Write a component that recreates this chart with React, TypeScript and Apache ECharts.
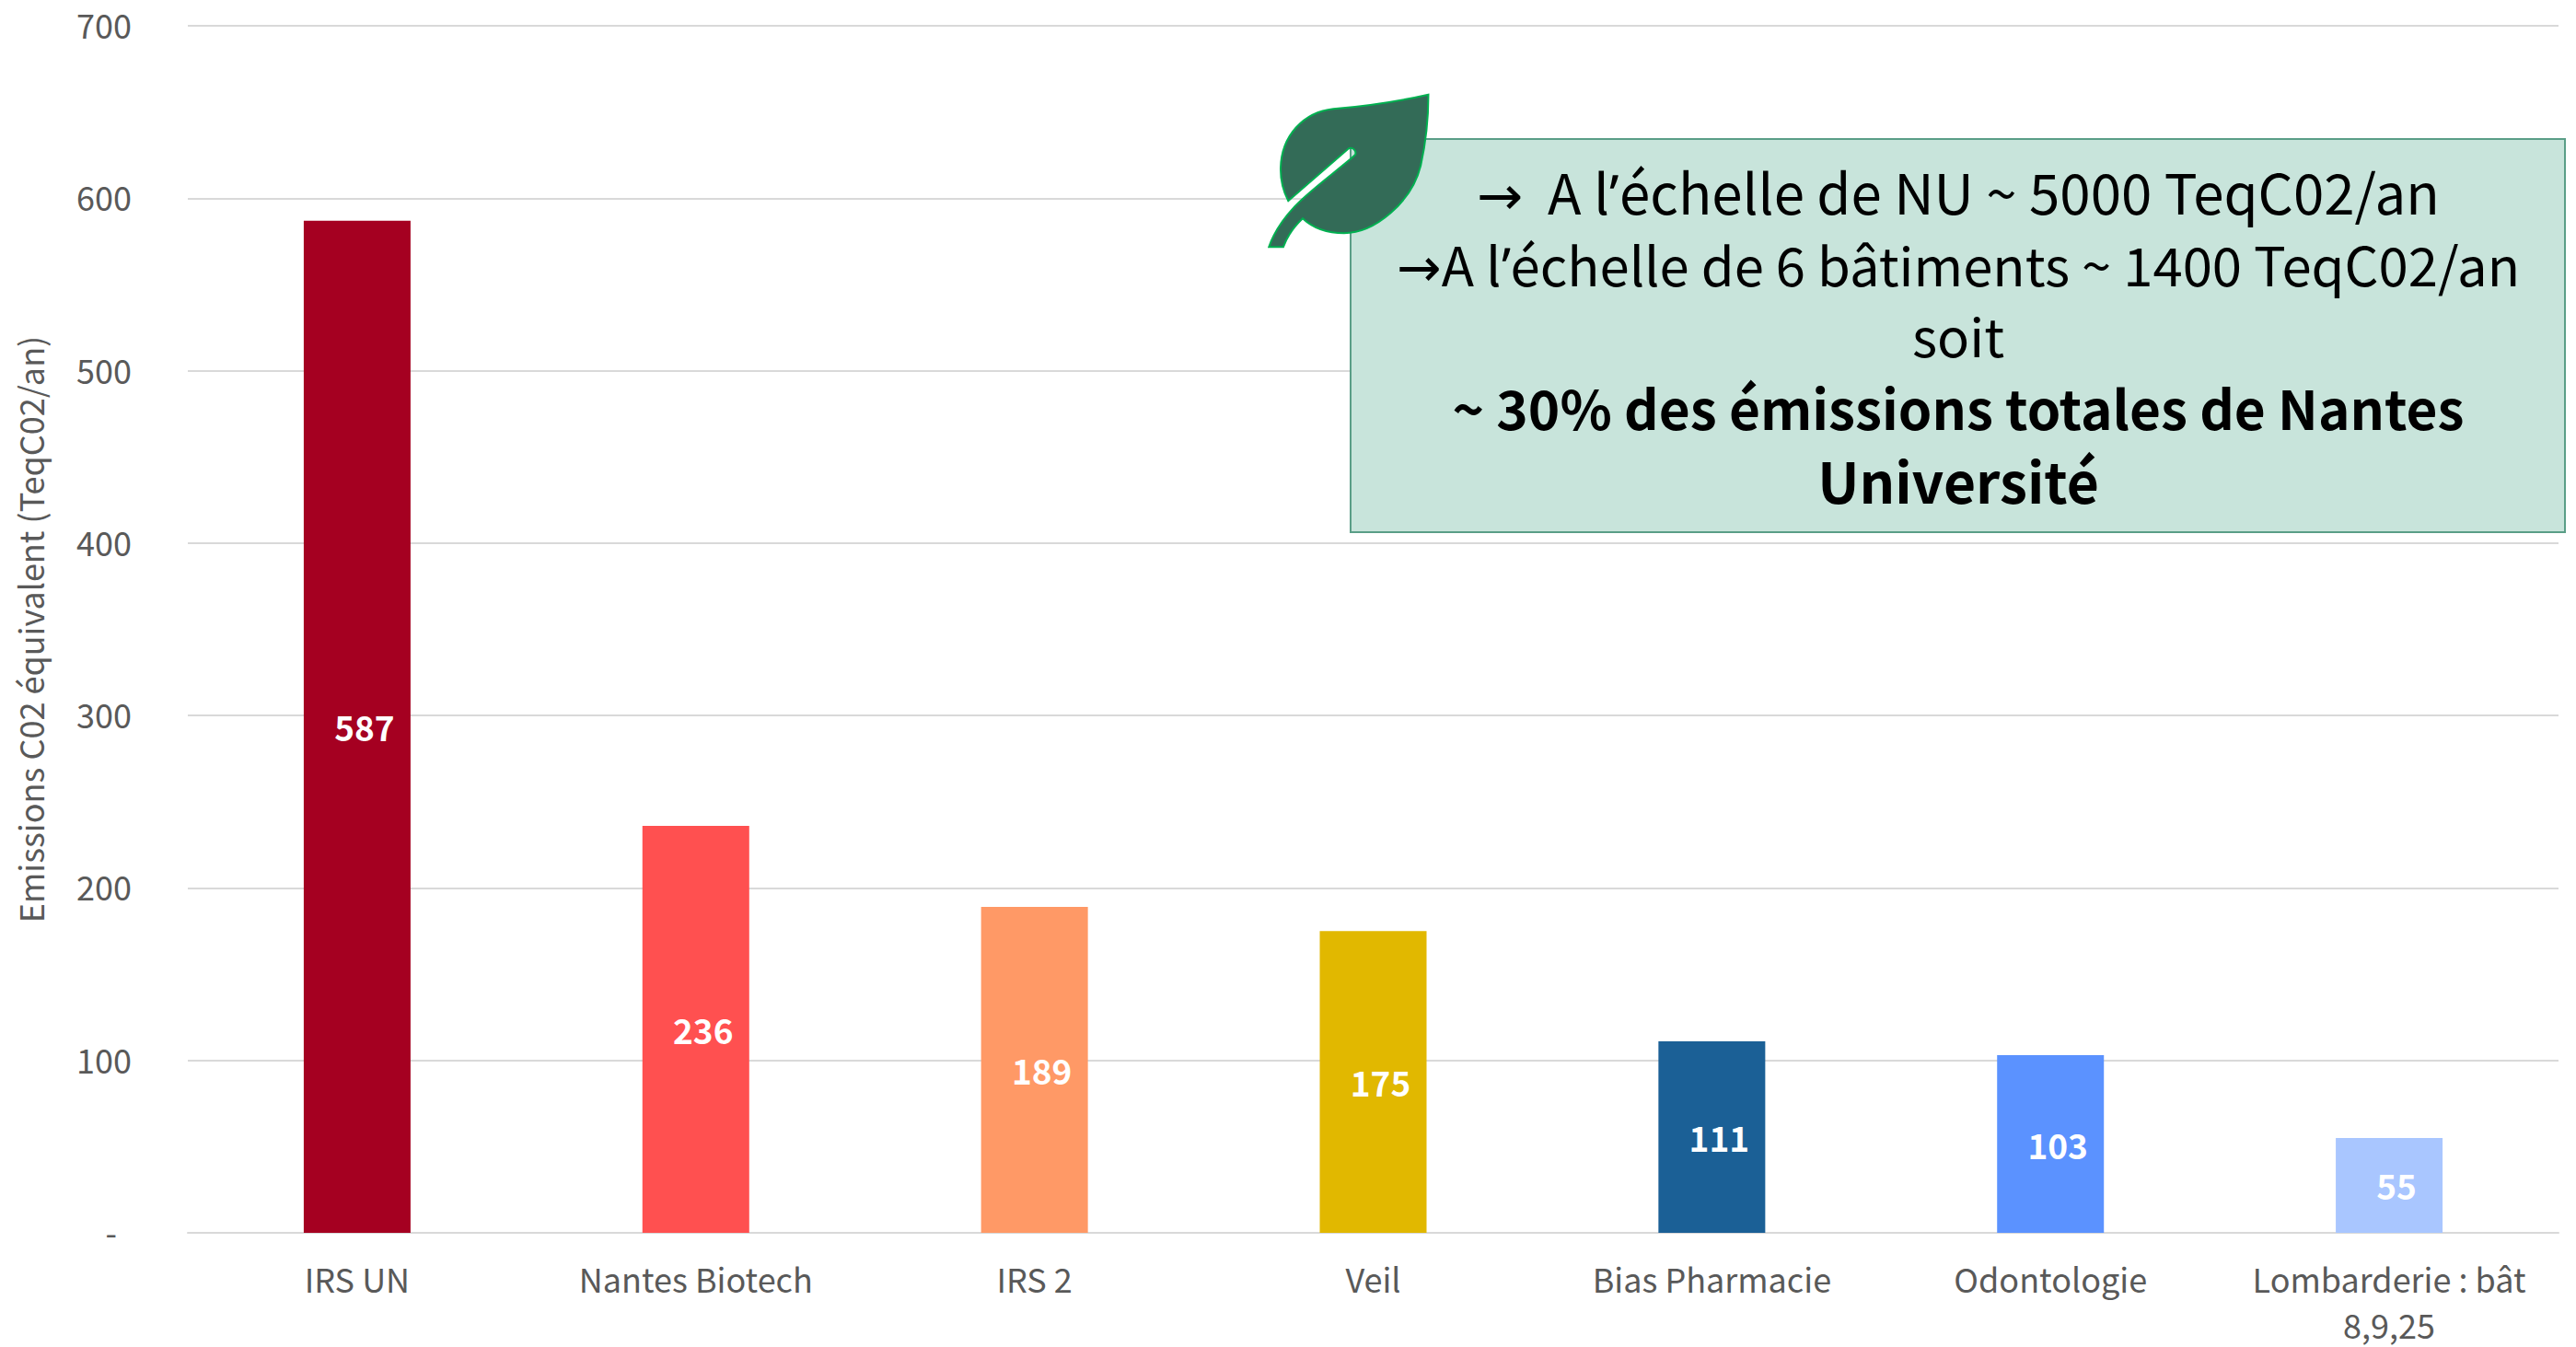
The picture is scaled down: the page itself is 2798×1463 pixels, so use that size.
import React, { useEffect, useRef } from "react";
import * as echarts from "echarts";

const categories = ["IRS UN", "Nantes Biotech", "IRS 2", "Veil", "Bias Pharmacie", "Odontologie", "Lombarderie : bât\n8,9,25"];
const values = [587, 236, 189, 175, 111, 103, 55];
const barColors = ["#a50021", "#ff5050", "#ff9966", "#e1b800", "#1b6096", "#5b92ff", "#a9c6ff"];
const yAxisName = "Emissions C02 équivalent (TeqC02/an)";
const noteLines = [
  "→  A l’échelle de NU ~ 5000 TeqC02/an",
  "→A l’échelle de 6 bâtiments ~ 1400 TeqC02/an",
  "soit",
  "~ 30% des émissions totales de Nantes",
  "Université",
];
const noteBold = [false, false, false, true, true];
const noteY = [206, 286, 363, 441, 520];
const noteSize = [60, 58, 58, 58.5, 60.5];

const FONT = '"NarrowArrow", "NarrowPunct", "Noto Sans CJK SC", "Noto Sans", sans-serif';
const LEAF =
  "M575 38 C470 62 380 75 265 85 C170 95 95 170 93 280 C93 325 105 360 118 385 L315 214 C328 208 342 222 336 235 L325 245 C260 300 190 350 140 402 C95 450 70 490 55 535 L102 535 C115 500 135 470 165 442 C200 475 250 490 300 490 C400 490 520 390 550 270 C570 180 575 110 575 38 Z";

echarts.graphic.registerShape("leaf", (echarts.graphic as any).extendPath(LEAF, {}));

const fontStyle = document.createElement("style");
fontStyle.textContent =
  '@font-face{font-family:"NarrowPunct";src:local("Noto Sans"),local("Noto Sans Regular"),local("DejaVu Sans");unicode-range:U+2019;font-weight:400;}' +
  '@font-face{font-family:"NarrowPunct";src:local("Noto Sans Bold"),local("DejaVu Sans Bold");unicode-range:U+2019;font-weight:700;}' +
  '@font-face{font-family:"NarrowArrow";src:local("DejaVu Sans");unicode-range:U+2192;font-weight:400;}';
document.head.appendChild(fontStyle);

export default function App() {
  const ref = useRef<HTMLDivElement>(null);
  useEffect(() => {
    document.body.style.margin = "0";
    const chart = echarts.init(ref.current!, null, { renderer: "svg" });
    chart.setOption({
      animation: false,
      backgroundColor: "#ffffff",
      grid: { left: 204, right: 19, top: 28, bottom: 124, containLabel: false, outerBoundsMode: "none" },
      xAxis: {
        type: "category",
        data: categories,
        axisTick: { show: false },
        axisLine: { lineStyle: { color: "#d9d9d9", width: 2 } },
        axisLabel: {
          interval: 0,
          margin: 24,
          color: "#595959",
          fontFamily: FONT,
          fontSize: 36,
          lineHeight: 50,
          verticalAlign: "top",
          hideOverlap: false,
        },
      },
      yAxis: {
        type: "value",
        min: 0,
        max: 700,
        interval: 100,
        name: yAxisName,
        nameLocation: "middle",
        nameGap: 154,
        nameTextStyle: { color: "#595959", fontFamily: FONT, fontSize: 36 },
        axisLine: { show: false },
        axisTick: { show: false },
        splitLine: { lineStyle: { color: "#d9d9d9", width: 2 } },
        axisLabel: {
          margin: 61,
          color: "#595959",
          fontFamily: FONT,
          fontSize: 36,
          padding: [0, 0, 4, 0],
          formatter: (v: number) => (v === 0 ? "{z|-}" : String(v)),
          rich: { z: { color: "#595959", fontFamily: FONT, fontSize: 36, padding: [0, 16, 0, 0] } },
        },
      },
      series: [
        {
          type: "bar",
          barWidth: 116,
          data: values.map((v, i) => ({ value: v, itemStyle: { color: barColors[i] } })),
          label: {
            show: true,
            position: "inside",
            offset: [8, 0],
            color: "#ffffff",
            fontFamily: FONT,
            fontSize: 37,
            fontWeight: "bold",
          },
        },
      ],
      graphic: [
        {
          type: "rect",
          z: 100,
          shape: { x: 1467, y: 151, width: 1319, height: 427 },
          style: { fill: "#c8e4db", stroke: "#5a9e87", lineWidth: 2 },
        },
        {
          type: "leaf",
          z: 102,
          x: 1360,
          y: 90,
          scaleX: 1 / 3,
          scaleY: 1 / 3,
          style: { fill: "#336b57", stroke: "#00b050", lineWidth: 6 },
        },
        ...noteLines.map((t, i) => ({
          type: "text",
          z: 103,
          x: 2127,
          y: noteY[i],
          style: {
            text: t,
            fill: "#000000",
            fontFamily: FONT,
            fontSize: noteSize[i],
            fontWeight: noteBold[i] ? "bold" : "normal",
            textAlign: "center",
            textVerticalAlign: "middle",
          },
        })),
      ],
    });
    return () => chart.dispose();
  }, []);
  return <div ref={ref} style={{ position: "absolute", left: 0, top: 0, width: 2798, height: 1463 }} />;
}
